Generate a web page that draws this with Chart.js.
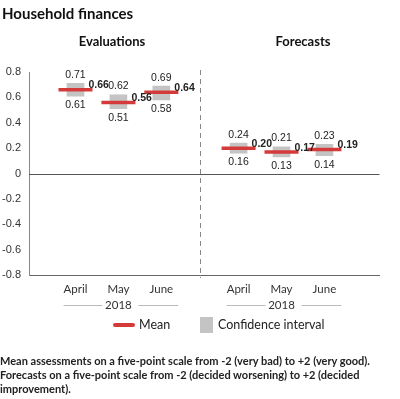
<!DOCTYPE html>
<html>
<head>
<meta charset="utf-8">
<script src="https://cdn.jsdelivr.net/npm/chart.js@4"></script>
<style>
  body { margin: 0; background: #fff; font-family: Lato, "Open Sans", sans-serif; color: #222; }
  #wrap { position: relative; width: 400px; height: 399px; overflow: hidden; }
  #chart { position: absolute; left: 0; top: 0; }
  .title { position: absolute; left: 2px; top: 4px; font-size: 15px; font-weight: bold; color: #111; }
  .panel { position: absolute; top: 33px; font-size: 13px; font-weight: bold; color: #111; transform: translateX(-50%); white-space: nowrap; }
  .legend-line { position: absolute; left: 113px; top: 323px; width: 22px; height: 4px; border-radius: 2px; background: #d43a3a; }
  .legend-box { position: absolute; left: 200px; top: 317px; width: 13px; height: 16px; background: #c4c4c4; }
  .legend-txt { position: absolute; top: 317px; font-size: 12.5px; color: #222; white-space: nowrap; }
  .note { position: absolute; left: 0; top: 354px; width: 400px; font-size: 11px; font-weight: bold; line-height: 14px; color: #222; }
</style>
</head>
<body>
<div id="wrap">
  <canvas id="chart" width="400" height="399"></canvas>
  <div class="title">Household finances</div>
  <div class="panel" style="left:112px">Evaluations</div>
  <div class="panel" style="left:303px">Forecasts</div>
  <div class="legend-line"></div>
  <div class="legend-txt" style="left:139px">Mean</div>
  <div class="legend-box"></div>
  <div class="legend-txt" style="left:218px">Confidence interval</div>
  <div class="note">Mean assessments on a five-point scale from -2 (very bad) to +2 (very good). Forecasts on a five-point scale from -2 (decided worsening) to +2 (decided improvement).</div>
</div>
<script>
// Datos
const months = ['April', 'May', 'June'];
const yearLabel = '2018';
const evalMean = [0.66, 0.56, 0.64];
const evalLow = [0.61, 0.51, 0.58];
const evalHigh = [0.71, 0.62, 0.69];
const foreMean = [0.20, 0.17, 0.19];
const foreLow = [0.16, 0.13, 0.14];
const foreHigh = [0.24, 0.21, 0.23];
const evalX = [0, 1, 2];
const foreX = [3.8, 4.8, 5.8];
const dividerX = 2.9;
const yTicks = [0.8, 0.6, 0.4, 0.2, 0, -0.2, -0.4, -0.6, -0.8];

const RED = '#d43a3a';
const GREY = '#c4c4c4';

const allX = evalX.concat(foreX);
const allLow = evalLow.concat(foreLow);
const allHigh = evalHigh.concat(foreHigh);
const allMean = evalMean.concat(foreMean);

// Etiquetas, divisor y ejes extra
const extras = {
  id: 'extras',
  beforeDatasetsDraw(chart) {
    const { ctx, scales: { x, y }, chartArea } = chart;
    ctx.save();
    // linea del cero
    ctx.strokeStyle = '#555';
    ctx.lineWidth = 1;
    ctx.beginPath();
    ctx.moveTo(chartArea.left, Math.round(y.getPixelForValue(0)) + 0.5);
    ctx.lineTo(chartArea.right, Math.round(y.getPixelForValue(0)) + 0.5);
    ctx.stroke();
    // divisor punteado
    const dx = Math.round(x.getPixelForValue(dividerX)) + 0.5;
    ctx.strokeStyle = '#888';
    ctx.setLineDash([5, 4]);
    ctx.beginPath();
    ctx.moveTo(dx, chartArea.top - 2);
    ctx.lineTo(dx, chartArea.bottom + 3);
    ctx.stroke();
    ctx.restore();
  },
  afterDatasetsDraw(chart) {
    const { ctx, scales: { x, y }, chartArea } = chart;
    ctx.save();
    ctx.textAlign = 'center';
    ctx.fillStyle = '#222';
    allX.forEach((xv, i) => {
      const px = x.getPixelForValue(xv);
      ctx.font = '10.5px "Liberation Sans", Arial, sans-serif';
      ctx.textBaseline = 'bottom';
      ctx.fillText(allHigh[i].toFixed(2), px, y.getPixelForValue(allHigh[i]) - 3);
      ctx.textBaseline = 'top';
      ctx.fillText(allLow[i].toFixed(2), px, y.getPixelForValue(allLow[i]) + 4);
      ctx.font = 'bold 10.5px "Liberation Sans", Arial, sans-serif';
      ctx.textAlign = 'left';
      ctx.textBaseline = 'bottom';
      ctx.fillText(allMean[i].toFixed(2), px + 13, y.getPixelForValue(allMean[i]) + 1);
      ctx.textAlign = 'center';
    });
    // meses y año
    ctx.font = '11.5px Lato, sans-serif';
    ctx.fillStyle = '#333';
    ctx.textBaseline = 'middle';
    allX.forEach((xv, i) => {
      ctx.fillText(months[i % 3], x.getPixelForValue(xv), chartArea.bottom + 14);
    });
    [evalX, foreX].forEach(group => {
      const yy = chartArea.bottom + 30;
      const first = x.getPixelForValue(group[0]);
      const mid = x.getPixelForValue(group[1]);
      const last = x.getPixelForValue(group[2]);
      ctx.fillStyle = '#333';
      ctx.fillText(yearLabel, mid, yy);
      ctx.strokeStyle = '#bbb';
      ctx.lineWidth = 1;
      ctx.beginPath();
      ctx.moveTo(first - 12, Math.round(yy) + 0.5);
      ctx.lineTo(mid - 16, Math.round(yy) + 0.5);
      ctx.moveTo(mid + 20, Math.round(yy) + 0.5);
      ctx.lineTo(last + 17, Math.round(yy) + 0.5);
      ctx.stroke();
    });
    ctx.restore();
  }
};

const ctx = document.getElementById('chart').getContext('2d');
new Chart(ctx, {
  data: {
    datasets: [
      {
        type: 'bar',
        label: 'Confidence interval',
        data: allX.map((xv, i) => ({ x: xv, y: [allLow[i], allHigh[i]] })),
        backgroundColor: GREY,
        barThickness: 17,
        order: 2
      },
      {
        type: 'line',
        label: 'Mean',
        data: allX.map((xv, i) => ({ x: xv, y: allMean[i] })),
        showLine: false,
        pointStyle: 'line',
        pointRadius: 17,
        pointBorderWidth: 3.5,
        pointBorderColor: RED,
        borderColor: RED,
        order: 1
      }
    ]
  },
  options: {
    responsive: false,
    animation: false,
    layout: { padding: { left: 0, right: 7, top: 72, bottom: 124 } },
    plugins: { legend: { display: false }, tooltip: { enabled: false } },
    scales: {
      x: {
        type: 'linear',
        min: -0.5,
        max: 6.5,
        grid: { display: false },
        border: { display: true, color: '#666', width: 1 },
        ticks: { display: false },
        afterFit: s => { s.height = 0; }
      },
      y: {
        min: -0.8,
        max: 0.8,
        afterBuildTicks: s => { s.ticks = yTicks.map(v => ({ value: v })); },
        grid: { display: false, drawTicks: false },
        border: { display: true, color: '#888', width: 1 },
        ticks: {
          padding: 8,
          color: '#333',
          font: { family: '"Liberation Sans", Arial, sans-serif', size: 11 },
          callback: v => (v === 0 ? '0' : v.toFixed(1))
        },
        afterFit: s => { s.width = 29; }
      }
    }
  },
  plugins: [extras]
});
</script>
</body>
</html>
